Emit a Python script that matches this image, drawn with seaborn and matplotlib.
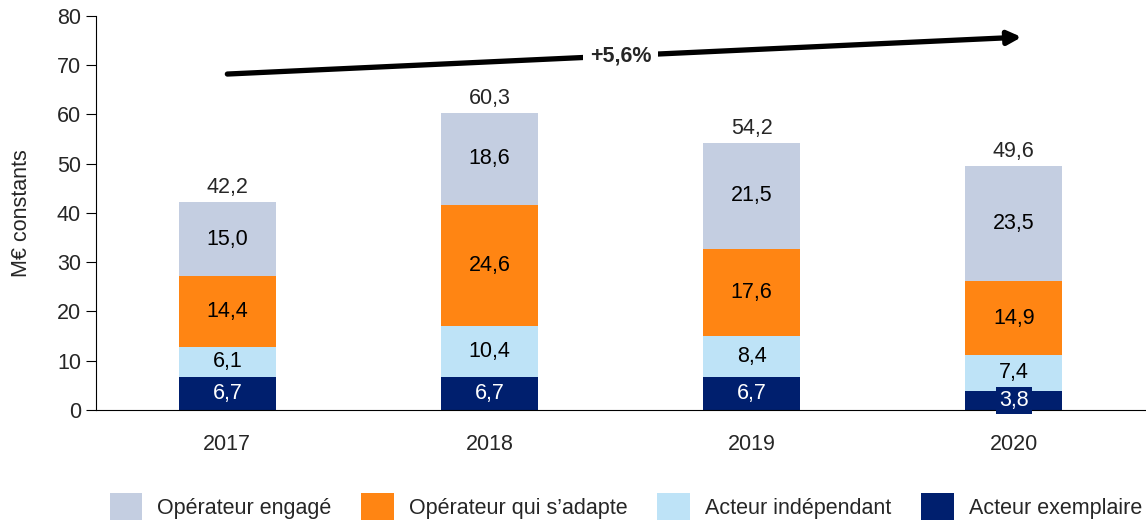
import numpy as np
import pandas as pd
import matplotlib
matplotlib.use('Agg')
import matplotlib.pyplot as plt
import seaborn as sns
from matplotlib.patches import Patch

# data
years = ['2017', '2018', '2019', '2020']
exemplaire = [6.7, 6.7, 6.7, 3.8]
independant = [6.1, 10.4, 8.4, 7.4]
adapte = [14.4, 24.6, 17.6, 14.9]
engage = [15.0, 18.6, 21.5, 23.5]
totals = [42.2, 60.3, 54.2, 49.6]
growth_label = '+5,6%'

series_names = ['Acteur exemplaire', 'Acteur indépendant',
                'Opérateur qui s\u2019adapte', 'Opérateur engagé']
series_vals = [exemplaire, independant, adapte, engage]
colors = ['#001F6E', '#BEE3F7', '#FF8513', '#C4CEE1']
text_colors = ['white', 'black', 'black', 'black']

FS = 15.5

sns.set_style('white')
plt.rcParams['font.family'] = ['Liberation Sans', 'DejaVu Sans']
plt.rcParams['font.size'] = FS

fig = plt.figure(figsize=(11.46, 5.31), dpi=100)
ax = fig.add_axes([0.084, 0.228, 0.915, 0.742])

df = pd.DataFrame({'year': years})
cum = np.cumsum(np.array(series_vals), axis=0)

# draw cumulative bars from top layer down so each segment shows
for i in range(len(series_names) - 1, -1, -1):
    df['top'] = cum[i]
    sns.barplot(data=df, x='year', y='top', color=colors[i], width=0.37,
                saturation=1, ax=ax, linewidth=0, zorder=2)

# segment labels
for i, vals in enumerate(series_vals):
    bottoms = cum[i] - np.array(vals)
    for j, v in enumerate(vals):
        y = bottoms[j] + v / 2
        txt = f'{v:.1f}'.replace('.', ',')
        kw = {}
        if v < 5:
            kw['bbox'] = dict(boxstyle='square,pad=0.15', fc=colors[i], ec='none')
        ax.text(j, y, txt, ha='center', va='center', color=text_colors[i],
                fontsize=FS, zorder=4, **kw)

# totals
for j, t in enumerate(totals):
    ax.text(j, t + 0.8, f'{t:.1f}'.replace('.', ','), ha='center', va='bottom',
            fontsize=FS, zorder=4)

# growth arrow
ax.annotate('', xy=(3.03, 75.7), xytext=(0.0, 68.2),
            arrowprops=dict(arrowstyle='-|>', lw=3.8, color='black',
                            mutation_scale=20, shrinkA=0, shrinkB=0),
            zorder=3)
ax.text(1.5, 71.9, growth_label, ha='center', va='center', fontsize=FS,
        fontweight='bold', zorder=4,
        bbox=dict(boxstyle='square,pad=0.3', fc='white', ec='none'))

ax.set_xlim(-0.5, 3.5)
ax.set_ylim(0, 80)
ax.set_yticks(range(0, 81, 10))
ax.set_xlabel('')
ax.set_ylabel('M€ constants', fontsize=FS, labelpad=18)
sns.despine(ax=ax)
ax.spines['left'].set_color('black')
ax.spines['bottom'].set_color('black')
ax.tick_params(axis='y', which='both', left=True, length=7, color='black',
               labelsize=FS, pad=4)
ax.tick_params(axis='x', bottom=False, labelsize=FS, pad=14)

handles = [Patch(facecolor=colors[i], edgecolor='none', label=series_names[i])
           for i in [3, 2, 1, 0]]
fig.legend(handles=handles, loc='lower center', ncol=4, frameon=False,
           bbox_to_anchor=(0.546, -0.015), fontsize=FS, handlelength=1.5,
           handleheight=1.5, columnspacing=1.4, handletextpad=0.7)

fig.savefig('out.png', dpi=100)
